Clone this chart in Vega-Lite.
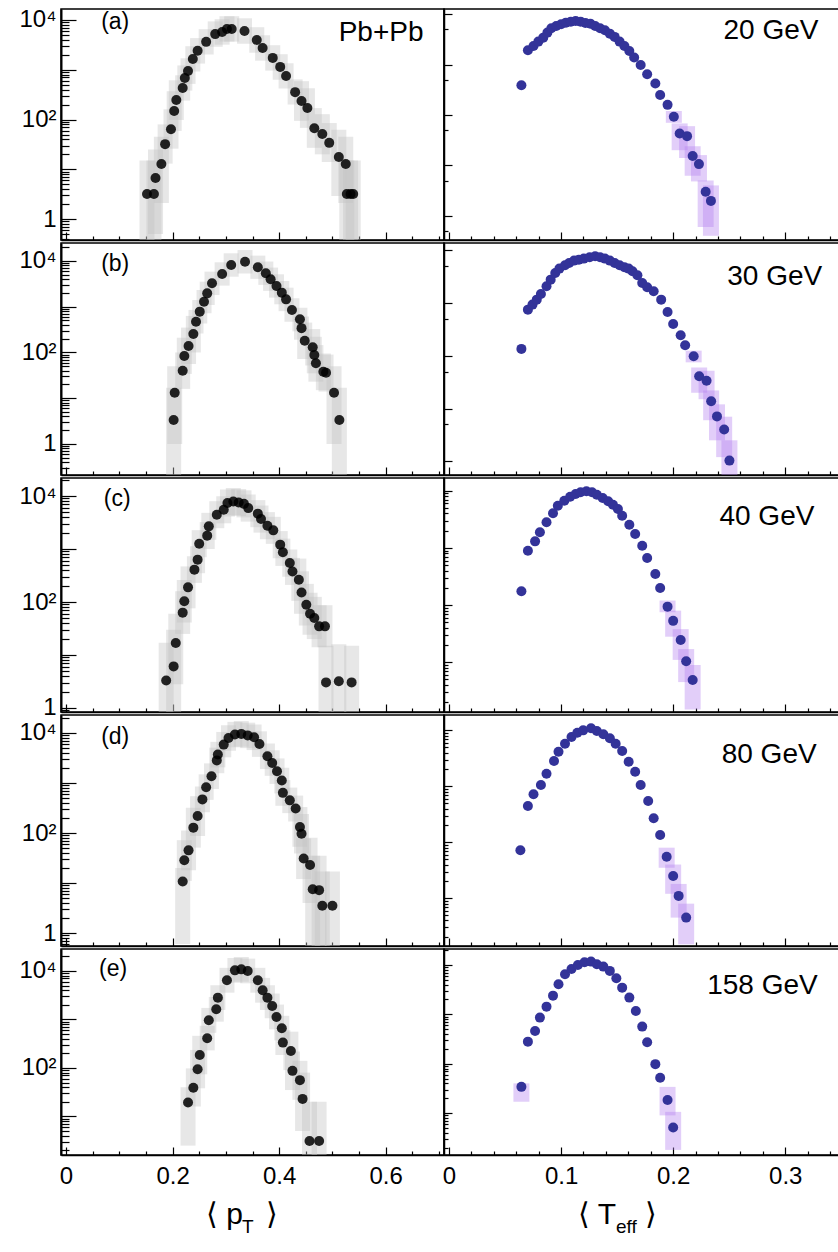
{
"$schema": "https://vega.github.io/schema/vega-lite/v6.json",
"padding": {"left": 5, "top": 7, "right": 0, "bottom": 0},
"config": {"view": {"stroke": "#000", "strokeWidth": 1.5}, "font": "Liberation Sans", "axis": {"grid": false, "tickColor": "#000", "domainColor": "#000", "labelColor": "#000", "labelFont": "Liberation Sans", "zindex": 1, "tickWidth": 1.2, "tickCount": 200}},
"datasets": {
"pt": [
{"r":1,"x":0.152,"y":3.2,"lo":0.1,"hi":15},{"r":1,"x":0.165,"y":3.2,"lo":0.1,"hi":15},{"r":1,"x":0.168,"y":6.7,"lo":0.5,"hi":25},{"r":1,"x":0.179,"y":12.8,"lo":2.1,"hi":45},{"r":1,"x":0.186,"y":32,"lo":13,"hi":80},{"r":1,"x":0.197,"y":64,"lo":26,"hi":160},{"r":1,"x":0.203,"y":148,"lo":59,"hi":370},{"r":1,"x":0.207,"y":246,"lo":98,"hi":615},{"r":1,"x":0.219,"y":430,"lo":240,"hi":775},{"r":1,"x":0.223,"y":680,"lo":380,"hi":1220},{"r":1,"x":0.229,"y":940,"lo":520,"hi":1700},{"r":1,"x":0.238,"y":1650,"lo":920,"hi":2970},{"r":1,"x":0.247,"y":2400,"lo":1330,"hi":4320},{"r":1,"x":0.263,"y":3630,"lo":2020,"hi":6530},{"r":1,"x":0.280,"y":5200,"lo":2890,"hi":9360},{"r":1,"x":0.293,"y":5750,"lo":3190,"hi":10350},{"r":1,"x":0.302,"y":6600,"lo":3670,"hi":11900},{"r":1,"x":0.311,"y":6600,"lo":3670,"hi":11900},{"r":1,"x":0.335,"y":6000,"lo":3330,"hi":10800},{"r":1,"x":0.358,"y":3970,"lo":2200,"hi":7150},{"r":1,"x":0.369,"y":2740,"lo":1520,"hi":4930},{"r":1,"x":0.388,"y":1730,"lo":960,"hi":3110},{"r":1,"x":0.402,"y":1140,"lo":630,"hi":2050},{"r":1,"x":0.413,"y":750,"lo":420,"hi":1350},{"r":1,"x":0.430,"y":355,"lo":200,"hi":640},{"r":1,"x":0.442,"y":235,"lo":94,"hi":590},{"r":1,"x":0.453,"y":170,"lo":68,"hi":425},{"r":1,"x":0.466,"y":67,"lo":27,"hi":170},{"r":1,"x":0.481,"y":51,"lo":20,"hi":128},{"r":1,"x":0.494,"y":34,"lo":14,"hi":85},{"r":1,"x":0.512,"y":17.6,"lo":2.9,"hi":62},{"r":1,"x":0.525,"y":12.8,"lo":2.1,"hi":45},{"r":1,"x":0.527,"y":3.2,"lo":0.1,"hi":15},{"r":1,"x":0.534,"y":3.2,"lo":0.1,"hi":15},{"r":1,"x":0.539,"y":3.2,"lo":0.1,"hi":15},
{"r":2,"x":0.202,"y":3.35,"lo":0.1,"hi":17},{"r":2,"x":0.204,"y":13.2,"lo":1,"hi":50},{"r":2,"x":0.219,"y":40,"lo":16,"hi":100},{"r":2,"x":0.222,"y":84,"lo":34,"hi":210},{"r":2,"x":0.230,"y":139,"lo":56,"hi":350},{"r":2,"x":0.239,"y":253,"lo":100,"hi":630},{"r":2,"x":0.244,"y":470,"lo":260,"hi":850},{"r":2,"x":0.251,"y":780,"lo":430,"hi":1400},{"r":2,"x":0.259,"y":1290,"lo":720,"hi":2320},{"r":2,"x":0.265,"y":1960,"lo":1090,"hi":3530},{"r":2,"x":0.274,"y":3250,"lo":1800,"hi":5850},{"r":2,"x":0.293,"y":5200,"lo":2890,"hi":9360},{"r":2,"x":0.310,"y":8150,"lo":4530,"hi":14700},{"r":2,"x":0.336,"y":9600,"lo":5330,"hi":17300},{"r":2,"x":0.360,"y":7300,"lo":4060,"hi":13100},{"r":2,"x":0.375,"y":5400,"lo":3000,"hi":9720},{"r":2,"x":0.384,"y":3990,"lo":2220,"hi":7180},{"r":2,"x":0.395,"y":2840,"lo":1580,"hi":5110},{"r":2,"x":0.405,"y":2030,"lo":1130,"hi":3650},{"r":2,"x":0.413,"y":1450,"lo":800,"hi":2610},{"r":2,"x":0.424,"y":850,"lo":470,"hi":1530},{"r":2,"x":0.439,"y":530,"lo":290,"hi":950},{"r":2,"x":0.442,"y":340,"lo":190,"hi":610},{"r":2,"x":0.448,"y":181,"lo":72,"hi":450},{"r":2,"x":0.463,"y":130,"lo":52,"hi":325},{"r":2,"x":0.466,"y":88,"lo":35,"hi":220},{"r":2,"x":0.469,"y":58,"lo":23,"hi":145},{"r":2,"x":0.483,"y":38,"lo":15,"hi":95},{"r":2,"x":0.488,"y":36,"lo":14,"hi":90},{"r":2,"x":0.503,"y":13.2,"lo":1,"hi":50},{"r":2,"x":0.513,"y":3.35,"lo":0.1,"hi":17},
{"r":3,"x":0.188,"y":3.3,"lo":0.1,"hi":17},{"r":3,"x":0.202,"y":6.1,"lo":0.5,"hi":30},{"r":3,"x":0.206,"y":16.8,"lo":2.8,"hi":60},{"r":3,"x":0.219,"y":63,"lo":25,"hi":160},{"r":3,"x":0.222,"y":103,"lo":41,"hi":260},{"r":3,"x":0.229,"y":189,"lo":76,"hi":470},{"r":3,"x":0.241,"y":408,"lo":230,"hi":730},{"r":3,"x":0.247,"y":630,"lo":350,"hi":1130},{"r":3,"x":0.250,"y":1260,"lo":700,"hi":2270},{"r":3,"x":0.265,"y":1790,"lo":1000,"hi":3220},{"r":3,"x":0.268,"y":2680,"lo":1490,"hi":4820},{"r":3,"x":0.283,"y":4440,"lo":2470,"hi":8000},{"r":3,"x":0.296,"y":5500,"lo":3060,"hi":9900},{"r":3,"x":0.303,"y":7380,"lo":4100,"hi":13300},{"r":3,"x":0.314,"y":7890,"lo":4380,"hi":14200},{"r":3,"x":0.324,"y":7560,"lo":4200,"hi":13600},{"r":3,"x":0.334,"y":7120,"lo":3960,"hi":12800},{"r":3,"x":0.342,"y":5920,"lo":3290,"hi":10700},{"r":3,"x":0.360,"y":4650,"lo":2580,"hi":8370},{"r":3,"x":0.366,"y":3680,"lo":2040,"hi":6620},{"r":3,"x":0.378,"y":2760,"lo":1530,"hi":4970},{"r":3,"x":0.389,"y":2250,"lo":1250,"hi":4050},{"r":3,"x":0.402,"y":1210,"lo":670,"hi":2180},{"r":3,"x":0.407,"y":870,"lo":480,"hi":1570},{"r":3,"x":0.420,"y":545,"lo":300,"hi":980},{"r":3,"x":0.425,"y":377,"lo":210,"hi":680},{"r":3,"x":0.437,"y":264,"lo":105,"hi":660},{"r":3,"x":0.442,"y":151,"lo":60,"hi":380},{"r":3,"x":0.451,"y":89,"lo":36,"hi":220},{"r":3,"x":0.458,"y":60,"lo":24,"hi":150},{"r":3,"x":0.466,"y":50,"lo":20,"hi":125},{"r":3,"x":0.475,"y":34.7,"lo":14,"hi":87},{"r":3,"x":0.486,"y":34.7,"lo":14,"hi":87},{"r":3,"x":0.488,"y":3.04,"lo":0.1,"hi":15},{"r":3,"x":0.512,"y":3.2,"lo":0.1,"hi":16},{"r":3,"x":0.536,"y":3.04,"lo":0.1,"hi":15},
{"r":4,"x":0.219,"y":10.7,"lo":0.6,"hi":20},{"r":4,"x":0.222,"y":28.6,"lo":11,"hi":72},{"r":4,"x":0.230,"y":45,"lo":18,"hi":112},{"r":4,"x":0.239,"y":128,"lo":51,"hi":320},{"r":4,"x":0.247,"y":218,"lo":87,"hi":545},{"r":4,"x":0.256,"y":470,"lo":260,"hi":850},{"r":4,"x":0.263,"y":825,"lo":460,"hi":1490},{"r":4,"x":0.273,"y":1370,"lo":760,"hi":2470},{"r":4,"x":0.283,"y":2830,"lo":1570,"hi":5090},{"r":4,"x":0.285,"y":3700,"lo":2060,"hi":6660},{"r":4,"x":0.296,"y":5860,"lo":3260,"hi":10500},{"r":4,"x":0.305,"y":7940,"lo":4410,"hi":14300},{"r":4,"x":0.317,"y":9300,"lo":5170,"hi":16700},{"r":4,"x":0.329,"y":9600,"lo":5330,"hi":17300},{"r":4,"x":0.341,"y":8960,"lo":4980,"hi":16100},{"r":4,"x":0.353,"y":8200,"lo":4560,"hi":14800},{"r":4,"x":0.363,"y":6000,"lo":3330,"hi":10800},{"r":4,"x":0.378,"y":3430,"lo":1910,"hi":6170},{"r":4,"x":0.387,"y":2510,"lo":1390,"hi":4520},{"r":4,"x":0.396,"y":1720,"lo":960,"hi":3100},{"r":4,"x":0.405,"y":1120,"lo":620,"hi":2020},{"r":4,"x":0.407,"y":635,"lo":350,"hi":1140},{"r":4,"x":0.420,"y":450,"lo":250,"hi":810},{"r":4,"x":0.431,"y":310,"lo":170,"hi":560},{"r":4,"x":0.439,"y":132,"lo":53,"hi":330},{"r":4,"x":0.442,"y":97,"lo":39,"hi":240},{"r":4,"x":0.446,"y":31,"lo":12,"hi":78},{"r":4,"x":0.458,"y":23,"lo":4,"hi":80},{"r":4,"x":0.463,"y":7.5,"lo":0.3,"hi":35},{"r":4,"x":0.475,"y":7.2,"lo":0.3,"hi":35},{"r":4,"x":0.481,"y":3.5,"lo":0.1,"hi":17},{"r":4,"x":0.500,"y":3.5,"lo":0.1,"hi":17},
{"r":5,"x":0.229,"y":19.3,"lo":2.5,"hi":40},{"r":5,"x":0.239,"y":39,"lo":16,"hi":98},{"r":5,"x":0.247,"y":94,"lo":38,"hi":235},{"r":5,"x":0.251,"y":185,"lo":74,"hi":460},{"r":5,"x":0.265,"y":410,"lo":230,"hi":740},{"r":5,"x":0.268,"y":960,"lo":530,"hi":1730},{"r":5,"x":0.282,"y":1620,"lo":900,"hi":2920},{"r":5,"x":0.285,"y":2820,"lo":1570,"hi":5080},{"r":5,"x":0.302,"y":6430,"lo":3570,"hi":11600},{"r":5,"x":0.317,"y":10300,"lo":5720,"hi":18500},{"r":5,"x":0.329,"y":10800,"lo":6000,"hi":19400},{"r":5,"x":0.341,"y":10000,"lo":5560,"hi":18000},{"r":5,"x":0.360,"y":6430,"lo":3570,"hi":11600},{"r":5,"x":0.369,"y":4000,"lo":2220,"hi":7200},{"r":5,"x":0.378,"y":2820,"lo":1570,"hi":5080},{"r":5,"x":0.387,"y":1900,"lo":1060,"hi":3420},{"r":5,"x":0.395,"y":1125,"lo":625,"hi":2030},{"r":5,"x":0.405,"y":660,"lo":370,"hi":1190},{"r":5,"x":0.407,"y":333,"lo":185,"hi":600},{"r":5,"x":0.422,"y":224,"lo":90,"hi":560},{"r":5,"x":0.425,"y":87,"lo":35,"hi":218},{"r":5,"x":0.439,"y":56,"lo":22,"hi":140},{"r":5,"x":0.444,"y":23,"lo":5,"hi":80},{"r":5,"x":0.457,"y":3.1,"lo":0.5,"hi":20},{"r":5,"x":0.475,"y":3.1,"lo":0.5,"hi":20}
],
"te": [
{"r":1,"x":0.0646,"y":390},{"r":1,"x":0.0704,"y":1930},{"r":1,"x":0.0754,"y":2350},{"r":1,"x":0.0797,"y":2860},{"r":1,"x":0.0841,"y":3430},{"r":1,"x":0.0878,"y":4320},{"r":1,"x":0.0913,"y":5270},{"r":1,"x":0.0957,"y":5860},{"r":1,"x":0.1000,"y":6340},{"r":1,"x":0.1043,"y":6810},{"r":1,"x":0.1087,"y":7130},{"r":1,"x":0.1130,"y":7360},{"r":1,"x":0.1174,"y":7130},{"r":1,"x":0.1217,"y":6710},{"r":1,"x":0.1261,"y":6500},{"r":1,"x":0.1304,"y":5860},{"r":1,"x":0.1348,"y":5270},{"r":1,"x":0.1391,"y":4820},{"r":1,"x":0.1435,"y":4120},{"r":1,"x":0.1478,"y":3550},{"r":1,"x":0.1522,"y":2860},{"r":1,"x":0.1565,"y":2350},{"r":1,"x":0.1609,"y":1870},{"r":1,"x":0.1652,"y":1380},{"r":1,"x":0.1710,"y":986},{"r":1,"x":0.1768,"y":645},{"r":1,"x":0.1841,"y":420},{"r":1,"x":0.1884,"y":250},{"r":1,"x":0.1950,"y":159},{"r":1,"x":0.2006,"y":92,"lo":70,"hi":120},{"r":1,"x":0.2058,"y":43,"lo":20,"hi":68},{"r":1,"x":0.2124,"y":38,"lo":14,"hi":60},{"r":1,"x":0.2174,"y":15.4,"lo":6.2,"hi":24},{"r":1,"x":0.2230,"y":10.6,"lo":4.8,"hi":16},{"r":1,"x":0.2290,"y":3.0,"lo":0.6,"hi":5},{"r":1,"x":0.2337,"y":1.97,"lo":0.4,"hi":4},
{"r":2,"x":0.0646,"y":135},{"r":2,"x":0.0704,"y":748},{"r":2,"x":0.0745,"y":931},{"r":2,"x":0.0783,"y":1157},{"r":2,"x":0.0820,"y":1485},{"r":2,"x":0.0870,"y":2080},{"r":2,"x":0.0907,"y":2770},{"r":2,"x":0.0948,"y":3710},{"r":2,"x":0.0985,"y":4480},{"r":2,"x":0.1035,"y":5200},{"r":2,"x":0.1072,"y":5740},{"r":2,"x":0.1116,"y":6350},{"r":2,"x":0.1159,"y":6630},{"r":2,"x":0.1203,"y":6930},{"r":2,"x":0.1255,"y":7370},{"r":2,"x":0.1304,"y":7700},{"r":2,"x":0.1348,"y":7370},{"r":2,"x":0.1391,"y":6930},{"r":2,"x":0.1435,"y":6350},{"r":2,"x":0.1478,"y":5740},{"r":2,"x":0.1522,"y":5200},{"r":2,"x":0.1565,"y":4760},{"r":2,"x":0.1603,"y":4480},{"r":2,"x":0.1637,"y":4000},{"r":2,"x":0.1681,"y":3360},{"r":2,"x":0.1724,"y":2400},{"r":2,"x":0.1768,"y":1990},{"r":2,"x":0.1826,"y":1670},{"r":2,"x":0.1893,"y":1157},{"r":2,"x":0.1950,"y":676},{"r":2,"x":0.2000,"y":400},{"r":2,"x":0.2067,"y":245},{"r":2,"x":0.2107,"y":158},{"r":2,"x":0.2183,"y":98,"lo":75,"hi":125},{"r":2,"x":0.2232,"y":41,"lo":20,"hi":60},{"r":2,"x":0.2298,"y":33.7,"lo":15,"hi":52},{"r":2,"x":0.2339,"y":13.7,"lo":6,"hi":22},{"r":2,"x":0.2391,"y":7.1,"lo":2.5,"hi":12},{"r":2,"x":0.2455,"y":4.0,"lo":1.2,"hi":7},{"r":2,"x":0.2502,"y":1.03,"lo":0.3,"hi":2.5},
{"r":3,"x":0.0646,"y":174},{"r":3,"x":0.0704,"y":893},{"r":3,"x":0.0768,"y":1303},{"r":3,"x":0.0811,"y":1874},{"r":3,"x":0.0870,"y":2805},{"r":3,"x":0.0928,"y":4030},{"r":3,"x":0.0971,"y":5470},{"r":3,"x":0.1029,"y":6690},{"r":3,"x":0.1081,"y":7850},{"r":3,"x":0.1130,"y":8750},{"r":3,"x":0.1174,"y":9380},{"r":3,"x":0.1226,"y":9770},{"r":3,"x":0.1276,"y":9380},{"r":3,"x":0.1319,"y":8510},{"r":3,"x":0.1371,"y":7450},{"r":3,"x":0.1420,"y":6530},{"r":3,"x":0.1463,"y":5690},{"r":3,"x":0.1507,"y":4790},{"r":3,"x":0.1545,"y":3660},{"r":3,"x":0.1609,"y":2550},{"r":3,"x":0.1661,"y":1750},{"r":3,"x":0.1724,"y":1092},{"r":3,"x":0.1768,"y":666},{"r":3,"x":0.1841,"y":350},{"r":3,"x":0.1884,"y":199},{"r":3,"x":0.1950,"y":94,"lo":75,"hi":120},{"r":3,"x":0.2000,"y":53,"lo":28,"hi":80},{"r":3,"x":0.2067,"y":24.5,"lo":11,"hi":38},{"r":3,"x":0.2116,"y":10.4,"lo":4.5,"hi":17},{"r":3,"x":0.2174,"y":4.9,"lo":1.5,"hi":9},
{"r":4,"x":0.0637,"y":72},{"r":4,"x":0.0704,"y":445},{"r":4,"x":0.0754,"y":719},{"r":4,"x":0.0820,"y":1054},{"r":4,"x":0.0870,"y":1680},{"r":4,"x":0.0937,"y":2830},{"r":4,"x":0.0977,"y":4150},{"r":4,"x":0.1035,"y":5770},{"r":4,"x":0.1093,"y":7590},{"r":4,"x":0.1145,"y":9060},{"r":4,"x":0.1197,"y":10000},{"r":4,"x":0.1267,"y":10860},{"r":4,"x":0.1319,"y":9720},{"r":4,"x":0.1377,"y":8490},{"r":4,"x":0.1435,"y":7200},{"r":4,"x":0.1487,"y":5770},{"r":4,"x":0.1545,"y":4270},{"r":4,"x":0.1603,"y":2750},{"r":4,"x":0.1661,"y":1820},{"r":4,"x":0.1710,"y":1054},{"r":4,"x":0.1777,"y":547},{"r":4,"x":0.1826,"y":268},{"r":4,"x":0.1884,"y":135},{"r":4,"x":0.1942,"y":55,"lo":35,"hi":80},{"r":4,"x":0.2000,"y":25,"lo":12,"hi":40},{"r":4,"x":0.2049,"y":11,"lo":4.5,"hi":18},{"r":4,"x":0.2116,"y":4.5,"lo":1.5,"hi":8},
{"r":5,"x":0.0646,"y":34,"lo":17,"hi":40},{"r":5,"x":0.0704,"y":280},{"r":5,"x":0.0768,"y":461},{"r":5,"x":0.0811,"y":858},{"r":5,"x":0.0870,"y":1430},{"r":5,"x":0.0928,"y":2390},{"r":5,"x":0.0977,"y":4070},{"r":5,"x":0.1035,"y":6480},{"r":5,"x":0.1093,"y":8300},{"r":5,"x":0.1150,"y":10000},{"r":5,"x":0.1209,"y":11340},{"r":5,"x":0.1267,"y":11660},{"r":5,"x":0.1319,"y":10330},{"r":5,"x":0.1377,"y":9250},{"r":5,"x":0.1435,"y":7570},{"r":5,"x":0.1493,"y":5380},{"r":5,"x":0.1545,"y":3470},{"r":5,"x":0.1609,"y":2180},{"r":5,"x":0.1667,"y":1170},{"r":5,"x":0.1724,"y":564},{"r":5,"x":0.1768,"y":272},{"r":5,"x":0.1841,"y":98},{"r":5,"x":0.1884,"y":52},{"r":5,"x":0.1950,"y":18.5,"lo":9,"hi":34},{"r":5,"x":0.2000,"y":5.1,"lo":1.8,"hi":10.6}
]
},
"columns": 2,
"spacing": {"row": 3, "column": 0},
"bounds": "flush",
"align": "each",
"concat": [
 {"width": 383, "height": 231, "layer": [
  {"data": {"name": "pt"}, "transform": [{"filter": "datum.r == 1"}], "mark": {"type": "bar", "size": 15, "color": "#c4c4c4", "opacity": 0.4, "clip": true},
   "encoding": {"x": {"field": "x", "type": "quantitative", "scale": {"domain": [0, 0.7], "nice": false, "zero": false}, "axis": {"title": null, "labels": false, "tickCount": 200, "values": [0,0.05,0.1,0.15,0.2,0.25,0.3,0.35,0.4,0.45,0.5,0.55,0.6,0.65,0.7], "tickSize": {"condition": {"test": "abs(datum.value*5 - round(datum.value*5)) < 0.001", "value": -8}, "value": -4}, "domainWidth": 1.5}},
    "y": {"field": "lo", "type": "quantitative", "scale": {"type": "log", "domain": [0.38, 16600], "nice": false}, "axis": {"title": null, "tickCount": 200, "values": [0.4,0.5,0.6,0.7,0.8,0.9,1,2,3,4,5,6,7,8,9,10,20,30,40,50,60,70,80,90,100,200,300,400,500,600,700,800,900,1000,2000,3000,4000,5000,6000,7000,8000,9000,10000], "labelExpr": "datum.value == 1 ? '1' : datum.value == 100 ? '10²' : datum.value == 10000 ? '10⁴' : ''", "labelOverlap": false, "labelFontSize": 24, "labelPadding": 20, "tickSize": {"condition": {"test": "abs(log(datum.value)/LN10 - round(log(datum.value)/LN10)) < 0.001", "value": -15}, "value": -8}, "domainWidth": 2, "minExtent": 55, "maxExtent": 55}},
    "y2": {"field": "hi"}}},
  {"data": {"name": "pt"}, "transform": [{"filter": "datum.r == 1"}], "mark": {"type": "circle", "size": 100, "color": "#000", "opacity": 0.85, "clip": true},
   "encoding": {"x": {"field": "x", "type": "quantitative"}, "y": {"field": "y", "type": "quantitative"}}},
  {"data": {"values": [{"t": "(a)"}]}, "mark": {"type": "text", "align": "left", "baseline": "middle", "fontSize": 23, "color": "#000"}, "encoding": {"text": {"field": "t"}, "x": {"datum": 0.066}, "y": {"datum": 9100}}},
  {"data": {"values": [{"t": "Pb+Pb"}]}, "mark": {"type": "text", "align": "right", "baseline": "middle", "fontSize": 28, "color": "#000"}, "encoding": {"text": {"field": "t"}, "x": {"datum": 0.671}, "y": {"datum": 5480}}}
 ]},
 {"width": 395, "height": 231, "layer": [
  {"data": {"name": "te"}, "transform": [{"filter": "datum.r == 1 && isValid(datum.lo)"}], "mark": {"type": "bar", "size": 16, "color": "#b784f0", "opacity": 0.4, "clip": true},
   "encoding": {"x": {"field": "x", "type": "quantitative", "scale": {"domain": [0, 0.3435], "nice": false, "zero": false}, "axis": {"title": null, "labels": false, "tickCount": 200, "values": [0,0.02,0.04,0.06,0.08,0.1,0.12,0.14,0.16,0.18,0.2,0.22,0.24,0.26,0.28,0.3,0.32,0.34], "tickSize": {"condition": {"test": "abs(datum.value*10 - round(datum.value*10)) < 0.001", "value": -8}, "value": -4}, "domainWidth": 1.5}},
    "y": {"field": "lo", "type": "quantitative", "scale": {"type": "log", "domain": [0.33, 12700], "nice": false}, "axis": {"title": null, "labels": false, "tickCount": 200, "values": [0.5,1,5,10,50,100,500,1000,5000,10000], "tickSize": {"condition": {"test": "abs(log(datum.value)/LN10 - round(log(datum.value)/LN10)) < 0.001", "value": -8}, "value": -4}, "domainWidth": 1.5}},
    "y2": {"field": "hi"}}},
  {"data": {"name": "te"}, "transform": [{"filter": "datum.r == 1"}], "mark": {"type": "circle", "size": 100, "color": "#333399", "opacity": 1, "clip": true},
   "encoding": {"x": {"field": "x", "type": "quantitative"}, "y": {"field": "y", "type": "quantitative"}}},
  {"data": {"values": [{"t": "20 GeV"}]}, "mark": {"type": "text", "align": "right", "baseline": "middle", "fontSize": 28, "color": "#000"}, "encoding": {"text": {"field": "t"}, "x": {"datum": 0.3296}, "y": {"datum": 4650}}}
 ]},
 {"width": 383, "height": 232, "layer": [
  {"data": {"name": "pt"}, "transform": [{"filter": "datum.r == 2"}], "mark": {"type": "bar", "size": 15, "color": "#c4c4c4", "opacity": 0.4, "clip": true},
   "encoding": {"x": {"field": "x", "type": "quantitative", "scale": {"domain": [0, 0.7], "nice": false, "zero": false}, "axis": {"title": null, "labels": false, "tickCount": 200, "values": [0,0.05,0.1,0.15,0.2,0.25,0.3,0.35,0.4,0.45,0.5,0.55,0.6,0.65,0.7], "tickSize": {"condition": {"test": "abs(datum.value*5 - round(datum.value*5)) < 0.001", "value": -8}, "value": -4}, "domainWidth": 1.5}},
    "y": {"field": "lo", "type": "quantitative", "scale": {"type": "log", "domain": [0.21, 24700], "nice": false}, "axis": {"title": null, "tickCount": 200, "values": [0.3,0.4,0.5,0.6,0.7,0.8,0.9,1,2,3,4,5,6,7,8,9,10,20,30,40,50,60,70,80,90,100,200,300,400,500,600,700,800,900,1000,2000,3000,4000,5000,6000,7000,8000,9000,10000,20000], "labelExpr": "datum.value == 1 ? '1' : datum.value == 100 ? '10²' : datum.value == 10000 ? '10⁴' : ''", "labelOverlap": false, "labelFontSize": 24, "labelPadding": 20, "tickSize": {"condition": {"test": "abs(log(datum.value)/LN10 - round(log(datum.value)/LN10)) < 0.001", "value": -15}, "value": -8}, "domainWidth": 2, "minExtent": 55, "maxExtent": 55}},
    "y2": {"field": "hi"}}},
  {"data": {"name": "pt"}, "transform": [{"filter": "datum.r == 2"}], "mark": {"type": "circle", "size": 100, "color": "#000", "opacity": 0.85, "clip": true},
   "encoding": {"x": {"field": "x", "type": "quantitative"}, "y": {"field": "y", "type": "quantitative"}}},
  {"data": {"values": [{"t": "(b)"}]}, "mark": {"type": "text", "align": "left", "baseline": "middle", "fontSize": 23, "color": "#000"}, "encoding": {"text": {"field": "t"}, "x": {"datum": 0.066}, "y": {"datum": 8570}}}
 ]},
 {"width": 395, "height": 232, "layer": [
  {"data": {"name": "te"}, "transform": [{"filter": "datum.r == 2 && isValid(datum.lo)"}], "mark": {"type": "bar", "size": 16, "color": "#b784f0", "opacity": 0.4, "clip": true},
   "encoding": {"x": {"field": "x", "type": "quantitative", "scale": {"domain": [0, 0.3435], "nice": false, "zero": false}, "axis": {"title": null, "labels": false, "tickCount": 200, "values": [0,0.02,0.04,0.06,0.08,0.1,0.12,0.14,0.16,0.18,0.2,0.22,0.24,0.26,0.28,0.3,0.32,0.34], "tickSize": {"condition": {"test": "abs(datum.value*10 - round(datum.value*10)) < 0.001", "value": -8}, "value": -4}, "domainWidth": 1.5}},
    "y": {"field": "lo", "type": "quantitative", "scale": {"type": "log", "domain": [0.55, 13700], "nice": false}, "axis": {"title": null, "labels": false, "tickCount": 200, "values": [1,5,10,50,100,500,1000,5000,10000], "tickSize": {"condition": {"test": "abs(log(datum.value)/LN10 - round(log(datum.value)/LN10)) < 0.001", "value": -8}, "value": -4}, "domainWidth": 1.5}},
    "y2": {"field": "hi"}}},
  {"data": {"name": "te"}, "transform": [{"filter": "datum.r == 2"}], "mark": {"type": "circle", "size": 100, "color": "#333399", "opacity": 1, "clip": true},
   "encoding": {"x": {"field": "x", "type": "quantitative"}, "y": {"field": "y", "type": "quantitative"}}},
  {"data": {"values": [{"t": "30 GeV"}]}, "mark": {"type": "text", "align": "right", "baseline": "middle", "fontSize": 28, "color": "#000"}, "encoding": {"text": {"field": "t"}, "x": {"datum": 0.333}, "y": {"datum": 3120}}}
 ]},
 {"width": 383, "height": 234, "layer": [
  {"data": {"name": "pt"}, "transform": [{"filter": "datum.r == 3"}], "mark": {"type": "bar", "size": 15, "color": "#c4c4c4", "opacity": 0.4, "clip": true},
   "encoding": {"x": {"field": "x", "type": "quantitative", "scale": {"domain": [0, 0.7], "nice": false, "zero": false}, "axis": {"title": null, "labels": false, "tickCount": 200, "values": [0,0.05,0.1,0.15,0.2,0.25,0.3,0.35,0.4,0.45,0.5,0.55,0.6,0.65,0.7], "tickSize": {"condition": {"test": "abs(datum.value*5 - round(datum.value*5)) < 0.001", "value": -8}, "value": -4}, "domainWidth": 1.5}},
    "y": {"field": "lo", "type": "quantitative", "scale": {"type": "log", "domain": [0.84, 21900], "nice": false}, "axis": {"title": null, "tickCount": 200, "values": [0.9,1,2,3,4,5,6,7,8,9,10,20,30,40,50,60,70,80,90,100,200,300,400,500,600,700,800,900,1000,2000,3000,4000,5000,6000,7000,8000,9000,10000,20000], "labelExpr": "datum.value == 1 ? '1' : datum.value == 100 ? '10²' : datum.value == 10000 ? '10⁴' : ''", "labelOverlap": false, "labelFontSize": 24, "labelPadding": 20, "tickSize": {"condition": {"test": "abs(log(datum.value)/LN10 - round(log(datum.value)/LN10)) < 0.001", "value": -15}, "value": -8}, "domainWidth": 2, "minExtent": 55, "maxExtent": 55}},
    "y2": {"field": "hi"}}},
  {"data": {"name": "pt"}, "transform": [{"filter": "datum.r == 3"}], "mark": {"type": "circle", "size": 100, "color": "#000", "opacity": 0.85, "clip": true},
   "encoding": {"x": {"field": "x", "type": "quantitative"}, "y": {"field": "y", "type": "quantitative"}}},
  {"data": {"values": [{"t": "(c)"}]}, "mark": {"type": "text", "align": "left", "baseline": "middle", "fontSize": 23, "color": "#000"}, "encoding": {"text": {"field": "t"}, "x": {"datum": 0.071}, "y": {"datum": 8870}}}
 ]},
 {"width": 395, "height": 234, "layer": [
  {"data": {"name": "te"}, "transform": [{"filter": "datum.r == 3 && isValid(datum.lo)"}], "mark": {"type": "bar", "size": 16, "color": "#b784f0", "opacity": 0.4, "clip": true},
   "encoding": {"x": {"field": "x", "type": "quantitative", "scale": {"domain": [0, 0.3435], "nice": false, "zero": false}, "axis": {"title": null, "labels": false, "tickCount": 200, "values": [0,0.02,0.04,0.06,0.08,0.1,0.12,0.14,0.16,0.18,0.2,0.22,0.24,0.26,0.28,0.3,0.32,0.34], "tickSize": {"condition": {"test": "abs(datum.value*10 - round(datum.value*10)) < 0.001", "value": -8}, "value": -4}, "domainWidth": 1.5}},
    "y": {"field": "lo", "type": "quantitative", "scale": {"type": "log", "domain": [1.35, 16700], "nice": false}, "axis": {"title": null, "labels": false, "tickCount": 200, "values": [2,3,4,5,6,7,8,9,10,20,30,40,50,60,70,80,90,100,200,300,400,500,600,700,800,900,1000,2000,3000,4000,5000,6000,7000,8000,9000,10000], "tickSize": {"condition": {"test": "abs(log(datum.value)/LN10 - round(log(datum.value)/LN10)) < 0.001", "value": -8}, "value": -4}, "domainWidth": 1.5}},
    "y2": {"field": "hi"}}},
  {"data": {"name": "te"}, "transform": [{"filter": "datum.r == 3"}], "mark": {"type": "circle", "size": 100, "color": "#333399", "opacity": 1, "clip": true},
   "encoding": {"x": {"field": "x", "type": "quantitative"}, "y": {"field": "y", "type": "quantitative"}}},
  {"data": {"values": [{"t": "40 GeV"}]}, "mark": {"type": "text", "align": "right", "baseline": "middle", "fontSize": 28, "color": "#000"}, "encoding": {"text": {"field": "t"}, "x": {"datum": 0.326}, "y": {"datum": 3540}}}
 ]},
 {"width": 383, "height": 231, "layer": [
  {"data": {"name": "pt"}, "transform": [{"filter": "datum.r == 4"}], "mark": {"type": "bar", "size": 15, "color": "#c4c4c4", "opacity": 0.4, "clip": true},
   "encoding": {"x": {"field": "x", "type": "quantitative", "scale": {"domain": [0, 0.7], "nice": false, "zero": false}, "axis": {"title": null, "labels": false, "tickCount": 200, "values": [0,0.05,0.1,0.15,0.2,0.25,0.3,0.35,0.4,0.45,0.5,0.55,0.6,0.65,0.7], "tickSize": {"condition": {"test": "abs(datum.value*5 - round(datum.value*5)) < 0.001", "value": -8}, "value": -4}, "domainWidth": 1.5}},
    "y": {"field": "lo", "type": "quantitative", "scale": {"type": "log", "domain": [0.55, 22900], "nice": false}, "axis": {"title": null, "tickCount": 200, "values": [0.6,0.7,0.8,0.9,1,2,3,4,5,6,7,8,9,10,20,30,40,50,60,70,80,90,100,200,300,400,500,600,700,800,900,1000,2000,3000,4000,5000,6000,7000,8000,9000,10000,20000], "labelExpr": "datum.value == 1 ? '1' : datum.value == 100 ? '10²' : datum.value == 10000 ? '10⁴' : ''", "labelOverlap": false, "labelFontSize": 24, "labelPadding": 20, "tickSize": {"condition": {"test": "abs(log(datum.value)/LN10 - round(log(datum.value)/LN10)) < 0.001", "value": -15}, "value": -8}, "domainWidth": 2, "minExtent": 55, "maxExtent": 55}},
    "y2": {"field": "hi"}}},
  {"data": {"name": "pt"}, "transform": [{"filter": "datum.r == 4"}], "mark": {"type": "circle", "size": 100, "color": "#000", "opacity": 0.85, "clip": true},
   "encoding": {"x": {"field": "x", "type": "quantitative"}, "y": {"field": "y", "type": "quantitative"}}},
  {"data": {"values": [{"t": "(d)"}]}, "mark": {"type": "text", "align": "left", "baseline": "middle", "fontSize": 23, "color": "#000"}, "encoding": {"text": {"field": "t"}, "x": {"datum": 0.066}, "y": {"datum": 8190}}}
 ]},
 {"width": 395, "height": 231, "layer": [
  {"data": {"name": "te"}, "transform": [{"filter": "datum.r == 4 && isValid(datum.lo)"}], "mark": {"type": "bar", "size": 16, "color": "#b784f0", "opacity": 0.4, "clip": true},
   "encoding": {"x": {"field": "x", "type": "quantitative", "scale": {"domain": [0, 0.3435], "nice": false, "zero": false}, "axis": {"title": null, "labels": false, "tickCount": 200, "values": [0,0.02,0.04,0.06,0.08,0.1,0.12,0.14,0.16,0.18,0.2,0.22,0.24,0.26,0.28,0.3,0.32,0.34], "tickSize": {"condition": {"test": "abs(datum.value*10 - round(datum.value*10)) < 0.001", "value": -8}, "value": -4}, "domainWidth": 1.5}},
    "y": {"field": "lo", "type": "quantitative", "scale": {"type": "log", "domain": [1.4, 18800], "nice": false}, "axis": {"title": null, "labels": false, "tickCount": 200, "values": [2,3,4,5,6,7,8,9,10,20,30,40,50,60,70,80,90,100,200,300,400,500,600,700,800,900,1000,2000,3000,4000,5000,6000,7000,8000,9000,10000], "tickSize": {"condition": {"test": "abs(log(datum.value)/LN10 - round(log(datum.value)/LN10)) < 0.001", "value": -8}, "value": -4}, "domainWidth": 1.5}},
    "y2": {"field": "hi"}}},
  {"data": {"name": "te"}, "transform": [{"filter": "datum.r == 4"}], "mark": {"type": "circle", "size": 100, "color": "#333399", "opacity": 1, "clip": true},
   "encoding": {"x": {"field": "x", "type": "quantitative"}, "y": {"field": "y", "type": "quantitative"}}},
  {"data": {"values": [{"t": "80 GeV"}]}, "mark": {"type": "text", "align": "right", "baseline": "middle", "fontSize": 28, "color": "#000"}, "encoding": {"text": {"field": "t"}, "x": {"datum": 0.328}, "y": {"datum": 3620}}}
 ]},
 {"width": 383, "height": 206,
  "title": {"text": "⟨ p\u2002 ⟩", "subtitle": "\u200B\u2003\u2002\u2009\u2009T", "orient": "bottom", "anchor": "start", "frame": "group", "dx": 145, "offset": 8, "fontSize": 30, "fontWeight": "normal", "font": "Liberation Sans", "color": "#000", "subtitleFontSize": 19, "subtitleFont": "Liberation Sans", "subtitleColor": "#000", "subtitlePadding": -12},
  "layer": [
  {"data": {"name": "pt"}, "transform": [{"filter": "datum.r == 5"}], "mark": {"type": "bar", "size": 15, "color": "#c4c4c4", "opacity": 0.4, "clip": true},
   "encoding": {"x": {"field": "x", "type": "quantitative", "scale": {"domain": [0, 0.7], "nice": false, "zero": false}, "axis": {"title": null, "tickCount": 200, "values": [0,0.05,0.1,0.15,0.2,0.25,0.3,0.35,0.4,0.45,0.5,0.55,0.6,0.65,0.7], "labelExpr": "datum.value == 0 ? '0' : datum.value == 0.2 ? '0.2' : datum.value == 0.4 ? '0.4' : datum.value == 0.6 ? '0.6' : ''", "labelOverlap": false, "labelFlush": false, "labelFontSize": 24, "labelPadding": 17, "labelBaseline": "top", "tickSize": {"condition": {"test": "abs(datum.value*5 - round(datum.value*5)) < 0.001", "value": -8}, "value": -4}, "domainWidth": 1.5}},
    "y": {"field": "lo", "type": "quantitative", "scale": {"type": "log", "domain": [1.6, 28400], "nice": false}, "axis": {"title": null, "tickCount": 200, "values": [2,3,4,5,6,7,8,9,10,20,30,40,50,60,70,80,90,100,200,300,400,500,600,700,800,900,1000,2000,3000,4000,5000,6000,7000,8000,9000,10000,20000], "labelExpr": "datum.value == 1 ? '1' : datum.value == 100 ? '10²' : datum.value == 10000 ? '10⁴' : ''", "labelOverlap": false, "labelFontSize": 24, "labelPadding": 20, "tickSize": {"condition": {"test": "abs(log(datum.value)/LN10 - round(log(datum.value)/LN10)) < 0.001", "value": -15}, "value": -8}, "domainWidth": 2, "minExtent": 55, "maxExtent": 55}},
    "y2": {"field": "hi"}}},
  {"data": {"name": "pt"}, "transform": [{"filter": "datum.r == 5"}], "mark": {"type": "circle", "size": 100, "color": "#000", "opacity": 0.85, "clip": true},
   "encoding": {"x": {"field": "x", "type": "quantitative"}, "y": {"field": "y", "type": "quantitative"}}},
  {"data": {"values": [{"t": "(e)"}]}, "mark": {"type": "text", "align": "left", "baseline": "middle", "fontSize": 23, "color": "#000"}, "encoding": {"text": {"field": "t"}, "x": {"datum": 0.062}, "y": {"datum": 11000}}}
 ]},
 {"width": 395, "height": 206,
  "title": {"text": "⟨ T\u2002\u2009 ⟩", "subtitle": "\u200B\u2003\u2003eff", "orient": "bottom", "anchor": "start", "frame": "group", "dx": 134, "offset": 8, "fontSize": 30, "fontWeight": "normal", "font": "Liberation Sans", "color": "#000", "subtitleFontSize": 19, "subtitleFont": "Liberation Sans", "subtitleColor": "#000", "subtitlePadding": -12},
  "layer": [
  {"data": {"name": "te"}, "transform": [{"filter": "datum.r == 5 && isValid(datum.lo)"}], "mark": {"type": "bar", "size": 16, "color": "#b784f0", "opacity": 0.4, "clip": true},
   "encoding": {"x": {"field": "x", "type": "quantitative", "scale": {"domain": [0, 0.3435], "nice": false, "zero": false}, "axis": {"title": null, "tickCount": 200, "values": [0,0.02,0.04,0.06,0.08,0.1,0.12,0.14,0.16,0.18,0.2,0.22,0.24,0.26,0.28,0.3,0.32,0.34], "labelExpr": "datum.value == 0 ? '0' : datum.value == 0.1 ? '0.1' : datum.value == 0.2 ? '0.2' : datum.value == 0.3 ? '0.3' : ''", "labelOverlap": false, "labelFlush": false, "labelFontSize": 24, "labelPadding": 17, "labelBaseline": "top", "tickSize": {"condition": {"test": "abs(datum.value*10 - round(datum.value*10)) < 0.001", "value": -8}, "value": -4}, "domainWidth": 1.5}},
    "y": {"field": "lo", "type": "quantitative", "scale": {"type": "log", "domain": [1.42, 21000], "nice": false}, "axis": {"title": null, "labels": false, "tickCount": 200, "values": [2,3,4,5,6,7,8,9,10,20,30,40,50,60,70,80,90,100,200,300,400,500,600,700,800,900,1000,2000,3000,4000,5000,6000,7000,8000,9000,10000,20000], "tickSize": {"condition": {"test": "abs(log(datum.value)/LN10 - round(log(datum.value)/LN10)) < 0.001", "value": -8}, "value": -4}, "domainWidth": 1.5}},
    "y2": {"field": "hi"}}},
  {"data": {"name": "te"}, "transform": [{"filter": "datum.r == 5"}], "mark": {"type": "circle", "size": 100, "color": "#333399", "opacity": 1, "clip": true},
   "encoding": {"x": {"field": "x", "type": "quantitative"}, "y": {"field": "y", "type": "quantitative"}}},
  {"data": {"values": [{"t": "158 GeV"}]}, "mark": {"type": "text", "align": "right", "baseline": "middle", "fontSize": 28, "color": "#000"}, "encoding": {"text": {"field": "t"}, "x": {"datum": 0.329}, "y": {"datum": 3670}}}
 ]}
]
}
